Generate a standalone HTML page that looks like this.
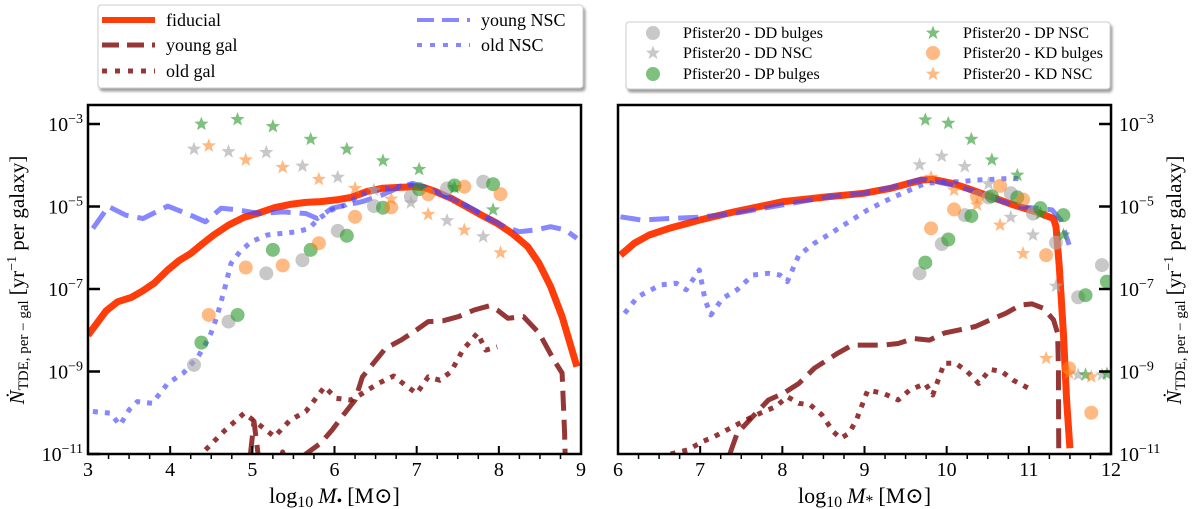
<!DOCTYPE html>
<html><head><meta charset="utf-8">
<style>
html,body{margin:0;padding:0;background:#fff;}
svg{display:block;font-family:"Liberation Serif","DejaVu Serif",serif;}
</style></head>
<body>
<svg id="chart" width="1200" height="509" viewBox="0 0 1200 509" xmlns="http://www.w3.org/2000/svg">
<defs>
<clipPath id="clipL"><rect x="88" y="105" width="493" height="349"/></clipPath>
<clipPath id="clipR"><rect x="618" y="105" width="493" height="349"/></clipPath>
<filter id="sh" x="-5%" y="-5%" width="110%" height="120%"><feDropShadow dx="2" dy="3" stdDeviation="1.2" flood-color="#777" flood-opacity="0.7"/></filter>
</defs>
<g id="root"></g>
</svg>
<script>
// ---------- data (log10 values) ----------
const leftFiducialX=[3.0,3.22,3.36,3.53,3.67,3.81,3.97,4.11,4.25,4.39,4.53,4.71,4.90,5.09,5.27,5.46,5.65,5.83,6.02,6.20,6.39,6.58,6.76,6.95,7.09,7.23,7.42,7.60,7.79,7.98,8.16,8.35,8.49,8.63,8.77,8.95];
const leftFiducialY=[-8.12,-7.53,-7.31,-7.20,-7.04,-6.85,-6.54,-6.31,-6.14,-5.91,-5.69,-5.45,-5.26,-5.15,-5.03,-4.95,-4.90,-4.88,-4.84,-4.78,-4.64,-4.56,-4.54,-4.52,-4.54,-4.64,-4.80,-5.00,-5.21,-5.41,-5.65,-5.97,-6.38,-6.94,-7.67,-8.88];
const leftYoungNscX=[3.06,3.25,3.46,3.67,3.97,4.20,4.43,4.62,4.81,5.09,5.37,5.65,5.79,5.97,6.16,6.34,6.58,6.76,6.95,7.14,7.32,7.51,7.70,7.88,8.07,8.25,8.44,8.63,8.81,8.95];
const leftYoungNscY=[-5.53,-5.00,-5.21,-5.29,-4.99,-5.17,-5.37,-5.04,-5.08,-5.17,-5.13,-5.17,-5.29,-5.04,-4.96,-4.88,-4.72,-4.56,-4.44,-4.56,-4.72,-4.88,-5.08,-5.29,-5.49,-5.61,-5.57,-5.49,-5.57,-5.77];
const leftOldNscX=[3.06,3.27,3.39,3.50,3.60,3.78,3.97,4.16,4.34,4.48,4.57,4.67,4.74,4.85,4.99,5.18,5.37,5.55,5.69,5.81,5.97,6.14,6.30,6.48,6.67,6.86,7.00,7.14,7.32,7.51,7.70,7.93];
const leftOldNscY=[-9.97,-10.01,-10.30,-9.93,-9.73,-9.77,-9.29,-9.04,-8.64,-8.16,-7.67,-6.94,-6.38,-6.09,-5.85,-5.69,-5.65,-5.61,-5.53,-5.29,-5.08,-4.96,-4.72,-4.62,-4.56,-4.48,-4.48,-4.56,-4.72,-4.88,-5.08,-5.37];
const leftYoungGalX=[3.0,3.35,3.45,3.95,3.98,4.03,4.95,5.02,5.10,5.30,5.37,5.45,5.65,5.83,5.97,6.11,6.25,6.34,6.44,6.62,6.81,7.00,7.14,7.32,7.51,7.70,7.88,7.98,8.11,8.30,8.49,8.67,8.77,8.80,8.81];
const leftYoungGalY=[-11.5,-11.2,-11.5,-11.5,-10.9,-11.5,-11.5,-10.21,-11.5,-11.5,-10.95,-11.5,-11.0,-10.74,-10.42,-10.05,-9.69,-9.13,-8.88,-8.44,-8.24,-7.99,-7.79,-7.77,-7.67,-7.51,-7.41,-7.51,-7.71,-7.67,-8.07,-8.72,-9.04,-10.5,-11.3];
const leftOldGalX=[4.43,4.67,4.90,5.09,5.27,5.46,5.65,5.88,6.02,6.20,6.34,6.53,6.72,6.86,7.00,7.14,7.28,7.42,7.56,7.74,7.84,7.98];
const leftOldGalY=[-10.9,-10.42,-10.01,-10.30,-10.58,-10.18,-9.97,-9.37,-9.65,-9.69,-9.53,-9.29,-9.11,-9.33,-9.53,-9.13,-9.21,-9.00,-8.48,-8.07,-8.48,-8.40];
const leftDDx=[4.29,4.71,5.17,5.61,6.04,6.48,6.93,7.37,7.81];
const leftDPx=[4.38,4.82,5.25,5.71,6.15,6.59,7.03,7.46,7.93];
const leftKDx=[4.47,4.92,5.37,5.81,6.25,6.69,7.14,7.58,8.02];
const leftDDbulge=[-8.84,-7.79,-6.62,-6.30,-5.59,-4.99,-4.76,-4.56,-4.40];
const leftDPbulge=[-8.30,-7.63,-6.05,-6.05,-5.71,-5.03,-4.58,-4.49,-4.46];
const leftKDbulge=[-7.63,-6.48,-6.43,-5.89,-5.25,-5.02,-4.70,-4.52,-4.70];
const leftDDnsc=[-3.61,-3.67,-3.69,-4.02,-4.29,-4.60,-4.91,-5.34,-5.73];
const leftDPnsc=[-3.00,-2.89,-3.06,-3.37,-3.61,-3.89,-4.10,-4.54,-5.08];
const leftKDnsc=[-3.53,-3.87,-4.05,-4.34,-4.56,-4.82,-5.19,-5.57,-6.12];

const rightFiducialX=[6.03,6.20,6.38,6.62,6.99,7.41,8.01,8.57,8.99,9.32,9.69,9.83,10.07,10.25,10.53,10.81,11.09,11.30,11.33,11.37,11.42,11.46,11.50];
const rightFiducialY=[-6.18,-5.89,-5.69,-5.53,-5.33,-5.13,-4.88,-4.76,-4.68,-4.56,-4.36,-4.34,-4.44,-4.56,-4.76,-4.96,-5.13,-5.29,-5.49,-6.46,-8.07,-9.69,-10.86];
const rightYoungNscX=[6.03,6.29,6.62,6.99,7.41,8.01,8.57,8.99,9.32,9.69,9.88,10.07,10.35,10.62,10.86,11.09,11.28,11.39,11.49];
const rightYoungNscY=[-5.25,-5.33,-5.29,-5.26,-5.17,-4.96,-4.76,-4.68,-4.54,-4.34,-4.40,-4.48,-4.64,-4.84,-5.00,-5.04,-5.08,-5.33,-5.93];
const rightOldNscX=[6.08,6.24,6.52,6.71,6.83,6.99,7.06,7.13,7.27,7.45,7.64,7.83,7.97,8.06,8.20,8.39,8.62,8.81,9.04,9.32,9.60,9.74,9.97,10.16,10.35,10.58,10.76,10.95];
const rightOldNscY=[-7.59,-7.19,-6.90,-6.86,-7.02,-6.54,-7.27,-7.63,-7.23,-7.02,-6.66,-6.62,-6.66,-6.82,-6.18,-5.89,-5.61,-5.37,-5.08,-4.80,-4.56,-4.44,-4.40,-4.40,-4.36,-4.34,-4.32,-4.32];
const rightYoungGalX=[7.36,7.45,7.64,7.83,8.01,8.20,8.39,8.67,8.85,9.04,9.23,9.41,9.60,9.79,9.97,10.16,10.35,10.53,10.72,10.90,11.04,11.18,11.30,11.35,11.36,11.365];
const rightYoungGalY=[-11.0,-10.50,-10.09,-9.69,-9.53,-9.29,-8.92,-8.56,-8.36,-8.36,-8.36,-8.32,-8.20,-8.24,-8.07,-7.99,-7.91,-7.75,-7.59,-7.39,-7.36,-7.47,-7.75,-8.07,-8.88,-11.3];
const rightOldGalX=[6.64,6.85,7.03,7.17,7.36,7.55,7.73,7.92,8.06,8.20,8.34,8.48,8.62,8.71,8.81,8.90,9.04,9.23,9.41,9.55,9.74,9.83,9.97,10.11,10.25,10.39,10.53,10.67,10.81,11.00];
const rightOldGalY=[-11.0,-10.90,-10.70,-10.58,-10.38,-10.18,-10.01,-9.85,-9.61,-9.77,-9.81,-10.05,-10.46,-10.62,-10.50,-10.18,-9.45,-9.53,-9.69,-9.45,-9.29,-9.57,-8.80,-8.80,-9.00,-9.29,-8.95,-9.00,-9.21,-9.41];
const rightDDx=[9.67,9.94,10.22,10.51,10.78,11.05,11.33,11.60,11.89];
const rightDPx=[9.74,10.02,10.30,10.55,10.86,11.14,11.42,11.69,11.95];
const rightKDx=[9.81,10.09,10.37,10.65,10.93,11.21,11.49,11.76];
const rightDDbulge=[-6.62,-5.91,-5.21,-4.78,-4.68,-5.17,-5.88,-7.20,-6.42];
const rightDPbulge=[-6.36,-5.80,-5.23,-4.75,-4.78,-5.04,-5.21,-7.15,-6.82];
const rightKDbulge=[-5.53,-5.07,-4.76,-4.50,-4.83,-6.18,-8.92,-10.00];
const rightDDnsc=[-3.99,-3.78,-4.03,-4.45,-5.26,-5.69,-6.93,-9.08,-9.08];
const rightDPnsc=[-2.90,-2.98,-3.37,-3.87,-4.24,-5.17,-5.69,-9.08,-9.06];
const rightKDnsc=[-4.29,-4.60,-4.96,-5.45,-6.14,-8.68,-9.04,-9.13];

const yTickExp=[-3,-5,-7,-9,-11];
const leftXTicks=[3,4,5,6,7,8,9];
const rightXTicks=[6,7,8,9,10,11,12];

// ---------- drawing ----------
const NS='http://www.w3.org/2000/svg';
const root=document.getElementById('root');
function mk(tag,attrs,parent){const e=document.createElementNS(NS,tag);for(const k in attrs)e.setAttribute(k,attrs[k]);(parent||root).appendChild(e);return e;}
const Y0=124, DEC=41.25;
function yPix(l){return Y0+(-3-l)*DEC;}
function makeX(x0,v0){return v=>x0+(v-v0)*82.17;}
const xL=makeX(88,3), xR=makeX(618,6);

const C={fid:'#ff3d0a',blue:'rgba(70,70,255,0.65)',dred:'rgba(130,20,20,0.85)',gray:'rgba(170,170,170,0.65)',green:'rgba(40,150,40,0.6)',orange:'rgba(255,130,30,0.55)'};

function linePath(xs,ys,xf){return xs.map((v,i)=>(i?'L':'M')+xf(v).toFixed(1)+' '+yPix(ys[i]).toFixed(1)).join(' ');}
function starPts(cx,cy,r){let p=[];for(let i=0;i<10;i++){const a=-Math.PI/2+i*Math.PI/5;const rr=i%2?r*0.42:r;p.push((cx+rr*Math.cos(a)).toFixed(1)+','+(cy+rr*Math.sin(a)).toFixed(1));}return p.join(' ');}

function drawPanel(side,xf,clip,xs,ticks,xmin,xmax,d){
  const g=mk('g',{'clip-path':'url(#'+clip+')'});
  
  
  const lines=[
    ['young-nsc-line',d.ynX,d.ynY,C.blue,5,'20 9'],
    ['old-nsc-line',d.onX,d.onY,C.blue,5,'5 7'],
    ['young-gal-line',d.ygX,d.ygY,C.dred,5,'20 9'],
    ['old-gal-line',d.ogX,d.ogY,C.dred,5,'5 7'],
    ['fiducial-line',d.fX,d.fY,C.fid,7,'']
  ];
  const order=[4,0,1,2,3];
  order.forEach(i=>{const L=lines[i];
    const p=mk('path',{d:linePath(L[1],L[2],xf),fill:'none',stroke:L[3],'stroke-width':L[4],'stroke-dasharray':L[5],'stroke-linejoin':'round'},g);
    
    
  });
  const sc=[
    ['dd-bulge',d.ddx,d.ddb,C.gray,'c'],['dd-nsc',d.ddx,d.ddn,C.gray,'s'],
    ['dp-bulge',d.dpx,d.dpb,C.green,'c'],['dp-nsc',d.dpx,d.dpn,C.green,'s'],
    ['kd-bulge',d.kdx,d.kdb,C.orange,'c'],['kd-nsc',d.kdx,d.kdn,C.orange,'s']];
  sc.forEach(S=>{S[2].forEach((v,i)=>{
    let e;
    if(S[4]==='c') e=mk('circle',{cx:xf(S[1][i]),cy:yPix(v),r:7,fill:S[3]},g);
    else e=mk('polygon',{points:starPts(xf(S[1][i]),yPix(v),7.5),fill:S[3]},g);
    
    
  });});
  const x0=xf(xmin),x1=xf(xmax);
  const fr=mk('rect',{x:x0,y:105,width:x1-x0,height:349,fill:'none',stroke:'#000','stroke-width':2.5});
  
  
  ticks.forEach(t=>{
    mk('line',{x1:xf(t),x2:xf(t),y1:454,y2:446,stroke:'#000','stroke-width':2});
    const tl=mk('text',{x:xf(t),y:476,'font-size':20,'text-anchor':'middle'});tl.textContent=t;
    
    
  });
  for(let t=xmin+0.25;t<xmax;t+=0.25){ if(Math.abs(t-Math.round(t))<0.01)continue;
    mk('line',{x1:xf(t),x2:xf(t),y1:454,y2:459,stroke:'#000','stroke-width':1.5});}
  const yAxX = side==='left'?x0:x1, dir = side==='left'?1:-1;
  yTickExp.forEach(e=>{
    mk('line',{x1:yAxX,x2:yAxX+dir*12,y1:yPix(e),y2:yPix(e),stroke:'#000','stroke-width':2.5});
    const tx = side==='left'? yAxX-5 : yAxX+8;
    const t=mk('text',{x:tx,y:yPix(e)+7,'font-size':20,'text-anchor':side==='left'?'end':'start'});
    const b=mk('tspan',{},t);b.textContent='10';
    const s=mk('tspan',{dy:-8,'font-size':14},t);s.textContent='−'+(-e);
    
    
  });
  const xl=mk('text',{x:(x0+x1)/2,y:503,'font-size':22,'text-anchor':'middle'});
  const a=mk('tspan',{},xl);a.textContent='log';
  const b=mk('tspan',{'font-size':16,dy:4},xl);b.textContent='10';
  const c=mk('tspan',{'font-style':'italic',dy:-4,dx:5},xl);c.textContent='M';
  const dd=mk('tspan',{'font-size':16,dy:3},xl);dd.textContent=side==='left'?'•':'*';
  const e2=mk('tspan',{dy:-3,dx:5},xl);e2.textContent='[M⊙]';
  
  
  const cx= side==='left'?24:1181;
  const yl=mk('text',{transform:'translate('+cx+',280) rotate(-90)','font-size':21,'text-anchor':'middle'});
  const n=mk('tspan',{'font-style':'italic'},yl);n.textContent='Ṅ';
  const s1=mk('tspan',{'font-size':15,dy:4},yl);s1.textContent='TDE, per − gal';
  const s2=mk('tspan',{dy:-4,dx:5},yl);s2.textContent='[yr';
  const s3=mk('tspan',{'font-size':14,dy:-8},yl);s3.textContent='−1';
  const s4=mk('tspan',{dy:8},yl);s4.textContent=' per galaxy]';
  
  
}

drawPanel('left',xL,'clipL',null,leftXTicks,3,9,{fX:leftFiducialX,fY:leftFiducialY,ynX:leftYoungNscX,ynY:leftYoungNscY,onX:leftOldNscX,onY:leftOldNscY,ygX:leftYoungGalX,ygY:leftYoungGalY,ogX:leftOldGalX,ogY:leftOldGalY,ddx:leftDDx,dpx:leftDPx,kdx:leftKDx,ddb:leftDDbulge,dpb:leftDPbulge,kdb:leftKDbulge,ddn:leftDDnsc,dpn:leftDPnsc,kdn:leftKDnsc});
drawPanel('right',xR,'clipR',null,rightXTicks,6,12,{fX:rightFiducialX,fY:rightFiducialY,ynX:rightYoungNscX,ynY:rightYoungNscY,onX:rightOldNscX,onY:rightOldNscY,ygX:rightYoungGalX,ygY:rightYoungGalY,ogX:rightOldGalX,ogY:rightOldGalY,ddx:rightDDx,dpx:rightDPx,kdx:rightKDx,ddb:rightDDbulge,dpb:rightDPbulge,kdb:rightKDbulge,ddn:rightDDnsc,dpn:rightDPnsc,kdn:rightKDnsc});

// ---------- legends ----------
const lg1=mk('g',{});


mk('rect',{x:98,y:5,width:485,height:83,rx:3,fill:'#fff',stroke:'#ccc','stroke-width':1,filter:'url(#sh)'},lg1);
const lineEntries=[['fiducial',102,20,C.fid,6,''],['young gal',102,45,C.dred,5,'17 8'],['old gal',102,71,C.dred,5,'5 8'],['young NSC',417,20,C.blue,4,'17 8'],['old NSC',417,45,C.blue,4,'5 8']];
lineEntries.forEach(L=>{
  const g=mk('g',{},lg1);
  
  
  mk('line',{x1:L[1],x2:L[1]+53,y1:L[2],y2:L[2],stroke:L[3],'stroke-width':L[4],'stroke-dasharray':L[5]},g);
  const t=mk('text',{x:L[1]+64,y:L[2]+6,'font-size':18},g);t.textContent=L[0];
});
const lg2=mk('g',{});


mk('rect',{x:626,y:22,width:484,height:67,rx:3,fill:'#fff',stroke:'#ccc','stroke-width':1,filter:'url(#sh)'},lg2);
const ptEntries=[['Pfister20 - DD bulges',653,33,C.gray,'c'],['Pfister20 - DD NSC',653,53,C.gray,'s'],['Pfister20 - DP bulges',653,74,C.green,'c'],['Pfister20 - DP NSC',933,33,C.green,'s'],['Pfister20 - KD bulges',933,53,C.orange,'c'],['Pfister20 - KD NSC',933,74,C.orange,'s']];
ptEntries.forEach(P=>{
  const g=mk('g',{},lg2);
  
  
  if(P[4]==='c') mk('circle',{cx:P[1],cy:P[2],r:7,fill:P[3]},g);
  else mk('polygon',{points:starPts(P[1],P[2],7.5),fill:P[3]},g);
  const t=mk('text',{x:P[1]+30,y:P[2]+5,'font-size':16},g);t.textContent=P[0];
});
</script>
</body></html>
